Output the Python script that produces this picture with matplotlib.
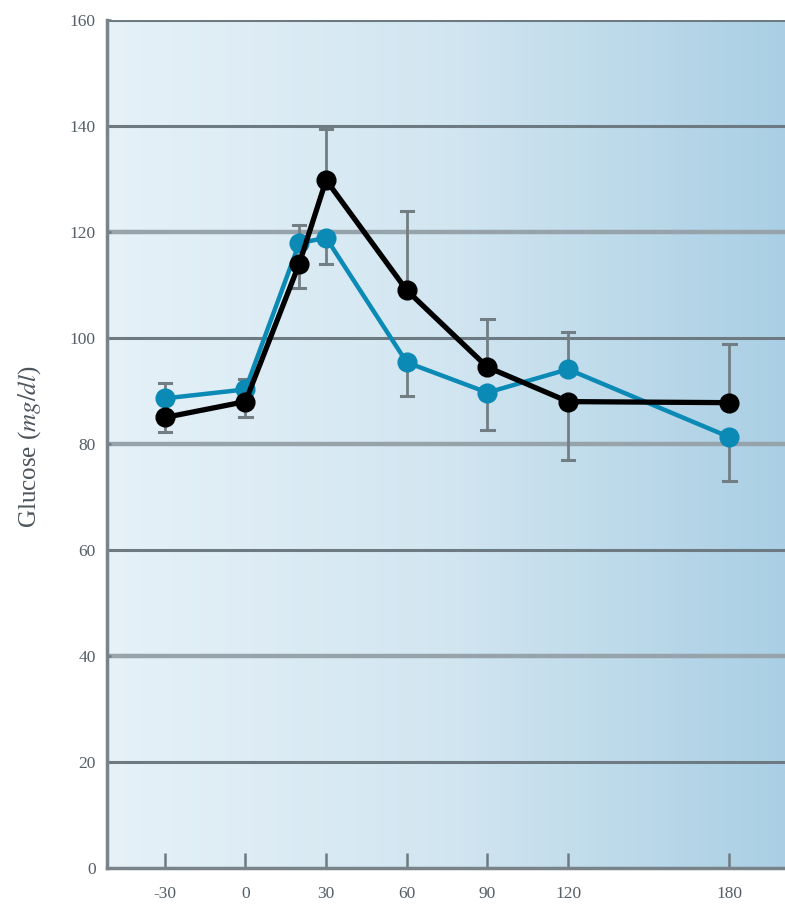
import numpy as np
import matplotlib
matplotlib.use('Agg')
from matplotlib import pyplot as plt
from matplotlib.colors import LinearSegmentedColormap

# minutes
minutes = [-30, 0, 20, 30, 60, 90, 120, 180]
tick_minutes = [-30, 0, 30, 60, 90, 120, 180]

# glucose values (mg/dl)
black_vals = [85, 88, 114, 129.8, 109, 94.5, 88, 87.8]
blue_vals = [88.6, 90.3, 117.9, 118.9, 95.4, 89.7, 94.1, 81.3]

# one-sided error bars (positive = up, negative = down)
black_err = [-2.7, -3, -4.5, 9.7, 15, 9, -11, 11]
blue_err = [3, 2, 3.5, -5, -6.4, -7, 7, -8.3]

plt.rcParams['font.family'] = ['Liberation Serif', 'DejaVu Serif']
plt.rcParams['mathtext.fontset'] = 'stix'

fig = plt.figure(figsize=(7.85, 9.09), dpi=100)
ax = fig.add_axes([107/785, (909-868)/909, 1 - 107/785, (868-20)/909])

# background gradient
grad = LinearSegmentedColormap.from_list('bg', ['#e6f1f8', '#d2e6f1', '#aacfe4'])
ax.imshow(np.linspace(0, 1, 256).reshape(1, -1), cmap=grad, aspect='auto',
          extent=[0, 1, 0, 1], transform=ax.transAxes, zorder=0)

# gridlines
for g in range(20, 161, 20):
    if g in (40, 80, 120):
        ax.axhline(g, color='#96a3ab', lw=3.2, zorder=1)
    else:
        ax.axhline(g, color='#6e7a82', lw=2.2, zorder=1)

def draw_err(vals, errs):
    for x, v, e in zip(minutes, vals, errs):
        ax.plot([x, x], [v, v + e], color='#737d84', lw=2, zorder=2)
        ax.plot([x - 2.3, x + 2.3], [v + e, v + e], color='#737d84', lw=2.2, zorder=2)

draw_err(black_vals, black_err)
draw_err(blue_vals, blue_err)

ax.plot(minutes, blue_vals, color='#0a8ab5', lw=3.2, marker='o', ms=13.5, zorder=4)
ax.plot(minutes, black_vals, color='black', lw=3.8, marker='o', ms=13.5, zorder=5)

ax.set_xlim(-51.5, 200.7)
ax.set_ylim(0, 160)
ax.set_xticks(tick_minutes)
ax.set_xticklabels([str(t) for t in tick_minutes])
ax.set_yticks(range(0, 161, 20))

for s in ['top', 'right']:
    ax.spines[s].set_visible(False)
for s in ['left', 'bottom']:
    ax.spines[s].set_color('#79848a')
    ax.spines[s].set_linewidth(2.5)

ax.tick_params(axis='x', direction='in', length=11, width=1.8, color='#6e7a82',
               labelsize=12.5, labelcolor='#555f66', pad=13)
ax.tick_params(axis='y', direction='in', length=3, width=1.8, color='#6e7a82',
               labelsize=12.5, labelcolor='#555f66', pad=8)

fig.text(30/785, 1 - 447/909, r'Glucose ($\it{mg/dl}$)', rotation=90,
         fontsize=18, color='#4a545a', ha='center', va='center')

fig.savefig('out.png', dpi=100)
